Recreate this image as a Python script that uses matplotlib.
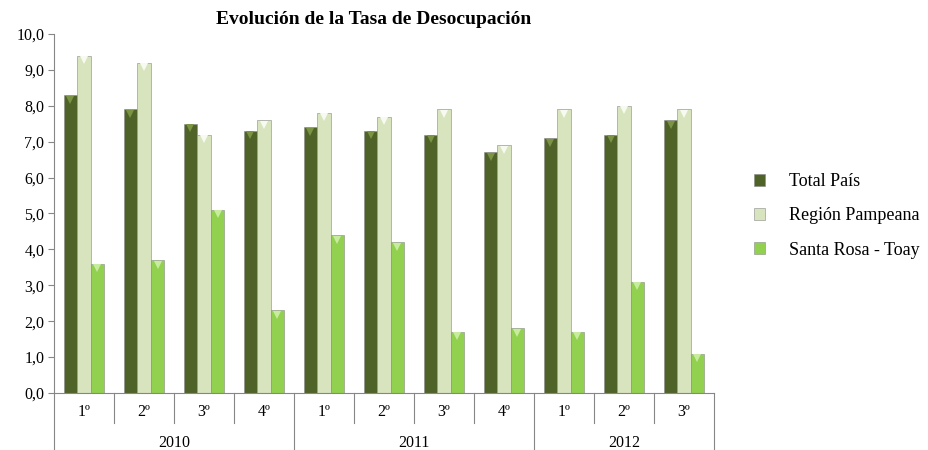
import numpy as np
import matplotlib
matplotlib.use("Agg")
import matplotlib.pyplot as plt
import matplotlib.transforms as mtransforms

plt.rcParams["font.family"] = ["Liberation Serif", "DejaVu Serif"]

quarters = ["1º", "2º", "3º", "4º", "1º", "2º", "3º", "4º", "1º", "2º", "3º"]
years = ["2010", "2011", "2012"]
year_sizes = [4, 4, 3]

total_pais = [8.3, 7.9, 7.5, 7.3, 7.4, 7.3, 7.2, 6.7, 7.1, 7.2, 7.6]
region_pampeana = [9.4, 9.2, 7.2, 7.6, 7.8, 7.7, 7.9, 6.9, 7.9, 8.0, 7.9]
santa_rosa = [3.6, 3.7, 5.1, 2.3, 4.4, 4.2, 1.7, 1.8, 1.7, 3.1, 1.1]

# name, values, bar colour, bevel colour
series = [
    ("Total País", total_pais, "#4F6228", "#7A9444"),
    ("Región Pampeana", region_pampeana, "#D7E4BD", "#F7FAF0"),
    ("Santa Rosa - Toay", santa_rosa, "#92D050", "#C8EC9E"),
]

W, H = 929, 450
fig = plt.figure(figsize=(W / 100, H / 100), dpi=100)
ax = fig.add_axes([54 / W, 57 / H, 660 / W, 359 / H])

x = np.arange(len(quarters))
bw = 0.225
bevel = mtransforms.offset_copy(ax.transData, fig, y=-4.5, units="dots")
for i, (name, vals, col, light) in enumerate(series):
    ax.bar(x + (i - 1) * bw, vals, width=bw, color=col, label=name,
           edgecolor="#8a8a8a", linewidth=0.4)
    # little bevel on the top of each bar
    ax.plot(x + (i - 1) * bw, vals, "v", color=light, markersize=6,
            markeredgewidth=0, transform=bevel)

ax.set_xlim(-0.5, len(quarters) - 0.5)
ax.set_ylim(0, 10)
ax.set_yticks(np.arange(0, 11, 1))
ax.set_yticklabels([f"{v:.1f}".replace(".", ",") for v in range(0, 11)], fontsize=11.5)
ax.tick_params(axis="y", length=4, color="#868686", pad=3)
ax.set_xticks([])

for s in ["top", "right"]:
    ax.spines[s].set_visible(False)
for s in ["left", "bottom"]:
    ax.spines[s].set_color("#868686")

ax.set_title("Evolución de la Tasa de Desocupación", fontsize=14,
             fontweight="bold", x=0.485, y=1.0, pad=7)

# multi-level category axis
px = 1 / 359
trans = mtransforms.blended_transform_factory(ax.transData, ax.transAxes)
year_edges = list(np.cumsum([0] + year_sizes) - 0.5)
for b in np.arange(-0.5, len(quarters), 1.0):
    low = -57 * px if b in year_edges else -30 * px
    ax.plot([b, b], [0, low], transform=trans, color="#868686", lw=0.8,
            clip_on=False)
for i, q in enumerate(quarters):
    ax.text(i, -19 * px, q, transform=trans, ha="center", va="center",
            fontsize=11.5)
for j, yr in enumerate(years):
    c = (year_edges[j] + year_edges[j + 1]) / 2
    ax.text(c, -50 * px, yr, transform=trans, ha="center", va="center",
            fontsize=11.5)

ax.legend(loc="center left", bbox_to_anchor=(738 / W, (H - 216) / H),
          bbox_transform=fig.transFigure, frameon=False, fontsize=13,
          handlelength=0.62, handleheight=0.62, handletextpad=1.3,
          labelspacing=0.95)

fig.savefig("out.png", dpi=100)
